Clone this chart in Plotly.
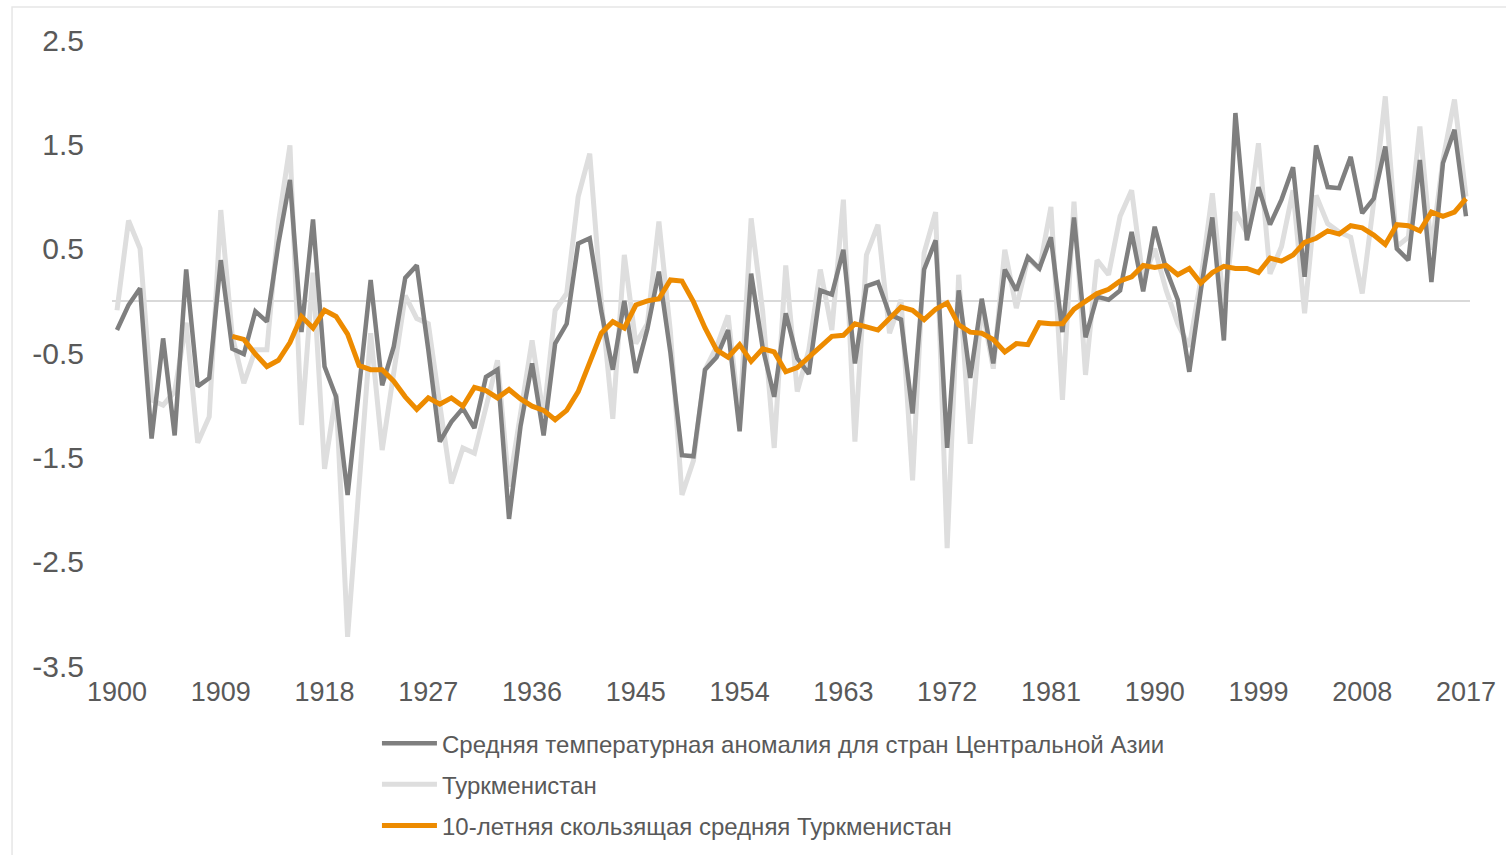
import plotly.graph_objects as go

years = list(range(1900, 2018))

central_asia = [
    -0.28, -0.04, 0.12, -1.32, -0.36, -1.29, 0.30, -0.82, -0.74, 0.39,
    -0.46, -0.51, -0.10, -0.20, 0.55, 1.16, -0.30, 0.78, -0.63, -0.92,
    -1.86, -0.83, 0.20, -0.81, -0.44, 0.22, 0.34, -0.47, -1.35, -1.16,
    -1.03, -1.22, -0.73, -0.66, -2.09, -1.20, -0.60, -1.29, -0.41, -0.22,
    0.55, 0.60, -0.10, -0.66, 0.00, -0.69, -0.27, 0.28, -0.50, -1.48,
    -1.49, -0.66, -0.54, -0.28, -1.25, 0.26, -0.45, -0.92, -0.12, -0.55,
    -0.70, 0.10, 0.06, 0.49, -0.60, 0.14, 0.18, -0.13, -0.18, -1.08,
    0.30, 0.58, -1.41, 0.10, -0.74, 0.02, -0.60, 0.30, 0.10, 0.42,
    0.31, 0.61, -0.30, 0.80, -0.35, 0.04, 0.01, 0.10, 0.66, 0.09,
    0.71, 0.30, 0.01, -0.68, 0.10, 0.80, -0.38, 1.80, 0.58, 1.09,
    0.73, 0.97, 1.28, 0.23, 1.49, 1.09, 1.08, 1.38, 0.84, 0.98,
    1.48, 0.50, 0.39, 1.35, 0.18, 1.32, 1.64, 0.81,
]

turkmenistan = [
    -0.09, 0.77, 0.50, -0.95, -1.00, -0.87, -0.21, -1.36, -1.11, 0.87,
    -0.34, -0.79, -0.47, -0.47, 0.75, 1.49, -1.19, 0.27, -1.61, -0.89,
    -3.22, -1.76, -0.31, -1.43, -0.70, 0.05, -0.17, -0.22, -1.00, -1.75,
    -1.41, -1.46, -1.02, -0.57, -1.78, -1.08, -0.38, -1.11, -0.09, 0.07,
    1.00, 1.41, 0.00, -1.13, 0.44, -0.41, -0.22, 0.76, -0.30, -1.86,
    -1.53, -0.66, -0.44, -0.14, -1.14, 0.79, -0.10, -1.41, 0.34, -0.87,
    -0.47, 0.30, -0.28, 0.97, -1.35, 0.44, 0.73, -0.31, 0.01, -1.72,
    0.46, 0.85, -2.37, 0.25, -1.37, -0.05, -0.65, 0.49, -0.07, 0.41,
    0.30, 0.90, -0.95, 0.95, -0.71, 0.39, 0.25, 0.81, 1.06, 0.20,
    0.50, 0.10, -0.22, -0.44, 0.20, 1.03, -0.06, 0.85, 0.65, 1.51,
    0.26, 0.52, 1.06, -0.12, 1.01, 0.74, 0.66, 0.61, 0.07, 0.95,
    1.96, 0.52, 0.61, 1.67, 0.49, 1.35, 1.93, 1.00,
]

ma_years = list(range(1910, 2018))
moving_avg = [
    -0.34, -0.37, -0.51, -0.63, -0.57, -0.40, -0.15, -0.26, -0.09, -0.15,
    -0.32, -0.62, -0.66, -0.66, -0.77, -0.92, -1.04, -0.93, -0.99, -0.93,
    -1.01, -0.83, -0.86, -0.93, -0.85, -0.94, -1.01, -1.05, -1.14, -1.05,
    -0.87, -0.60, -0.31, -0.20, -0.26, -0.04, 0.00, 0.02, 0.20, 0.19,
    -0.01, -0.26, -0.47, -0.54, -0.42, -0.58, -0.46, -0.49, -0.68, -0.64,
    -0.54, -0.43, -0.34, -0.33, -0.22, -0.25, -0.28, -0.17, -0.06, -0.09,
    -0.18, -0.08, -0.02, -0.23, -0.30, -0.31, -0.37, -0.49, -0.41, -0.42,
    -0.21, -0.22, -0.22, -0.08, 0.00, 0.07, 0.11, 0.19, 0.23, 0.34,
    0.32, 0.34, 0.25, 0.31, 0.17, 0.27, 0.33, 0.31, 0.31, 0.27,
    0.41, 0.38, 0.44, 0.56, 0.60, 0.67, 0.64, 0.72, 0.70, 0.63,
    0.54, 0.73, 0.72, 0.67, 0.85, 0.81, 0.85, 0.98,
]

x_tick_vals = list(range(1900, 2018, 9))
x_tick_text = [str(v) for v in x_tick_vals]
y_tick_vals = [-3.5, -2.5, -1.5, -0.5, 0.5, 1.5, 2.5]
y_tick_text = ["-3.5", "-2.5", "-1.5", "-0.5", "0.5", "1.5", "2.5"]

names = [
    "Средняя температурная аномалия для стран Центральной Азии",
    "Туркменистан",
    "10-летняя скользящая средняя Туркменистан",
]

FONT = "Liberation Sans, Arial, sans-serif"
TXT = "#595959"

fig = go.Figure()
fig.add_trace(go.Scatter(
    x=years, y=turkmenistan, mode="lines", name=names[1],
    line=dict(color="#dedede", width=5), legendrank=2, legendgroup="b",
))
fig.add_trace(go.Scatter(
    x=years, y=central_asia, mode="lines", name=names[0],
    line=dict(color="#7f7f7f", width=4.5), legendrank=1, legendgroup="a",
))
fig.add_trace(go.Scatter(
    x=ma_years, y=moving_avg, mode="lines", name=names[2],
    line=dict(color="#ed8b00", width=5), legendrank=3, legendgroup="c",
))

fig.update_layout(
    width=1506, height=855,
    margin=dict(l=112, r=36, t=40, b=189, autoexpand=False),
    paper_bgcolor="white", plot_bgcolor="white",
    font=dict(family=FONT, color=TXT),
    xaxis=dict(
        range=[1899.566, 2017.347], tickvals=x_tick_vals, ticktext=x_tick_text,
        showgrid=False, zeroline=False, showline=False, ticks="",
        tickfont=dict(size=27, color=TXT), ticklabelstandoff=7,
    ),
    yaxis=dict(
        range=[-3.5, 2.5], tickvals=y_tick_vals, ticktext=y_tick_text,
        showgrid=False, zeroline=True, zerolinecolor="#d9d9d9", zerolinewidth=1.5,
        showline=False, ticks="", tickfont=dict(size=30, color=TXT),
        ticklabelstandoff=27,
    ),
    legend=dict(
        orientation="v", x=0.1951, xanchor="left", y=-0.0879, yanchor="top",
        font=dict(size=24, color=TXT), itemwidth=55, traceorder="grouped",
        tracegroupgap=7, bgcolor="rgba(0,0,0,0)",
    ),
    showlegend=True,
    shapes=[dict(
        type="rect", xref="paper", yref="paper",
        x0=-0.0736, x1=1.3, y0=-0.8, y1=1.0527,
        line=dict(color="#e6e6e6", width=1.5), fillcolor="rgba(0,0,0,0)",
        layer="below",
    )],
)

fig.write_html(
    "out.html",
    config={"displayModeBar": False},
    post_script="document.body.style.margin='0';document.body.style.overflow='hidden';",
)
